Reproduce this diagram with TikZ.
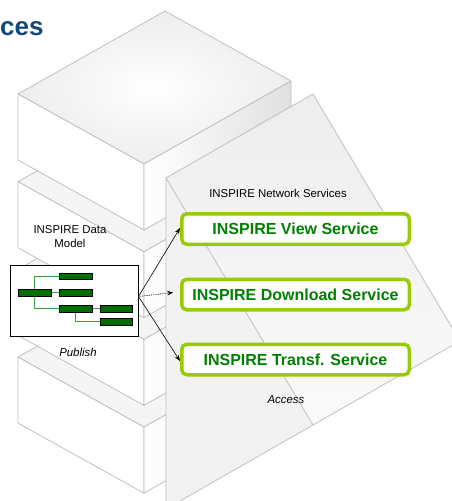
\documentclass[tikz,border=0pt]{standalone}
\usepackage{fontspec}
\setmainfont{Liberation Sans}
\usetikzlibrary{arrows.meta,calc}
\definecolor{edgegray}{RGB}{192,192,192}
\definecolor{ygreen}{RGB}{153,204,0}
\definecolor{tgreen}{RGB}{0,128,0}
\definecolor{bargreen}{RGB}{0,110,0}
\definecolor{linegreen}{RGB}{60,160,60}
\definecolor{navy}{RGB}{16,74,124}
\begin{document}
\begin{tikzpicture}[x=1pt,y=-1pt,
  faceedge/.style={draw=edgegray, line width=0.8pt, line join=round},
  svc/.style={draw=ygreen, line width=3.5pt, rounded corners=5pt, fill=white,
    minimum width=227.5pt, minimum height=30.5pt, inner sep=0pt,
    font=\fontsize{16}{19}\selectfont\bfseries, text=tgreen},
  bar/.style={draw=black, fill=bargreen, line width=0.4pt, minimum width=32.5pt,
    minimum height=6.5pt, inner sep=0pt},
  treeline/.style={draw=linegreen, line width=0.8pt},
  lbl/.style={inner sep=0pt, font=\fontsize{11.4}{14}\selectfont, text=black},
  conn/.style={-{Stealth[length=6pt,width=4.5pt]}, line width=0.6pt, black}
]
\useasboundingbox (0,0) rectangle (452,501);
\clip (0,0) rectangle (452,501);

% stacked boxes (bottom first)
\foreach \k in {3,2,1,0} {
  \pgfmathsetmacro\fy{164+87.7*\k}
  % top face
  \ifnum\k=0
    \shade[inner color=white, outer color=black!7] (18,\fy-70) -- (165,\fy-153) -- (291,\fy-83) -- (144,\fy) -- cycle;
  \else
    \fill[black!4] (18,\fy-70) -- (165,\fy-153) -- (291,\fy-83) -- (144,\fy) -- cycle;
  \fi
  \draw[faceedge] (18,\fy-70) -- (165,\fy-153) -- (291,\fy-83) -- (144,\fy) -- cycle;
  % front face
  \fill[white] (18,\fy-70) -- (144,\fy) -- (144,\fy+66) -- (18,\fy-4) -- cycle;
  \draw[faceedge] (18,\fy-70) -- (144,\fy) -- (144,\fy+66) -- (18,\fy-4) -- cycle;
  % right face
  \shade[left color=white, right color=black!12] (144,\fy) -- (291,\fy-83) -- (291,\fy-17) -- (144,\fy+66) -- cycle;
  \draw[faceedge] (144,\fy) -- (291,\fy-83) -- (291,\fy-17) -- (144,\fy+66) -- cycle;
}

% network services slab
\coordinate (P1) at (166,178);
\coordinate (P2) at (313,94);
\coordinate (P3) at (460,341);
\coordinate (P4) at (313,425);
\coordinate (P5) at (166,509);
\fill[black!5] (P1) -- (P4) -- (P5) -- cycle;
\shade[top color=black!7, bottom color=black!2] (P1) -- (P2) -- (P3) -- (P4) -- cycle;
\draw[faceedge] (P5) -- (P1) -- (P2) -- (P3) -- (P4) -- (P5);
\draw[faceedge] (P1) -- (P4);

% title fragment
\node[anchor=base west, inner sep=0pt, font=\fontsize{26}{30}\selectfont\bfseries, text=navy] (title) at (0,35) {ces};

% labels
\node[lbl] (nstitle) at (278,193) {INSPIRE Network Services};
\node[lbl, align=center] (dm) at (70,237) {INSPIRE Data\\Model};
\node[lbl, font=\fontsize{11.4}{14}\selectfont\itshape] (publabel) at (78,352) {Publish};
\node[lbl, font=\fontsize{11.4}{14}\selectfont\itshape] (access) at (286,400) {Access};

% service boxes
\node[svc] (view) at (295.5,229) {INSPIRE View Service};
\node[svc] (dl) at (295.5,294.5) {INSPIRE Download Service};
\node[svc] (tr) at (295.5,359.5) {INSPIRE Transf. Service};

% publish figure
\node[draw=black, fill=white, line width=0.8pt, minimum width=128.2pt, minimum height=71.2pt, inner sep=0pt] (pub) at (74.5,301) {};
\coordinate (A) at (75.5,276);
\coordinate (root) at (34.7,292.5);
\coordinate (B) at (75.5,292.5);
\coordinate (C) at (75.5,308.5);
\coordinate (D) at (116.2,308.5);
\coordinate (E) at (116.2,321.7);
\draw[treeline] (A) -| (root);
\draw[treeline] (C) -| (root);
\draw[treeline] (root) -- (B);
\draw[treeline] (C) -- (D);
\draw[treeline] (E) -| (C);
\node[bar] (barA) at (A) {};
\node[bar] (barroot) at (root) {};
\node[bar] (barB) at (B) {};
\node[bar] (barC) at (C) {};
\node[bar] (barD) at (D) {};
\node[bar] (barE) at (E) {};

% connectors
\coordinate (src) at (138.5,296.5);
\draw[conn] (src) -- ([yshift=1pt]view.west);
\draw[conn, dash pattern=on 0.9pt off 0.9pt] (src) -- ([xshift=-6.75pt,yshift=2pt]dl.west);
\draw[conn] (src) -- ([yshift=-1.5pt]tr.west);
\end{tikzpicture}
\end{document}
